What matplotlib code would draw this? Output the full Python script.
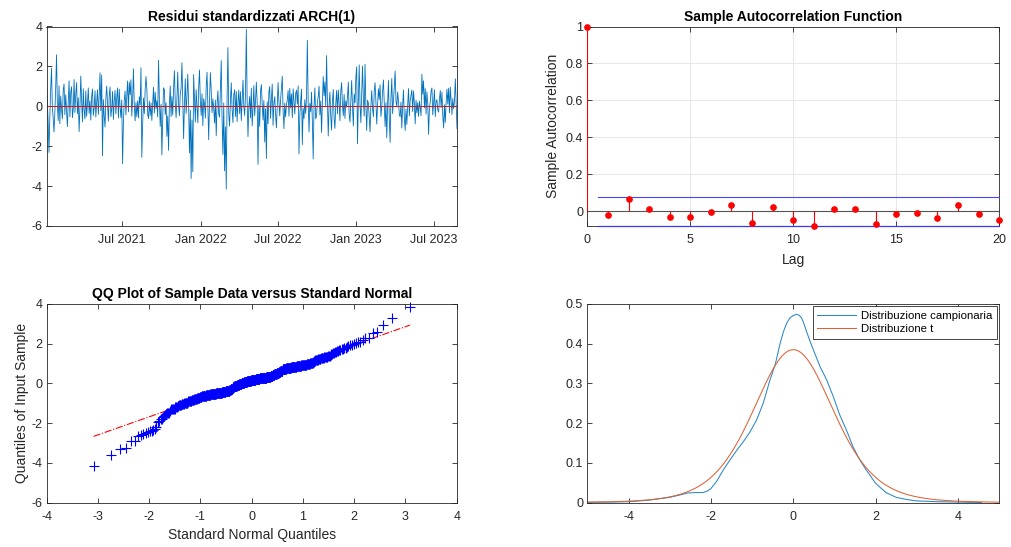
import math
from statistics import NormalDist
import numpy as np
import pandas as pd
import matplotlib
matplotlib.use('Agg')
import matplotlib.pyplot as plt
import matplotlib.dates as mdates

# ---------------- data ----------------
resid = [
    1.32, 0.18, -0.83, -2.31, -0.47, 0.84, 1.91, -0.08, -0.61, -1.29, -0.27, 0.94,
    2.58, 0.07, -0.72, 1.03, -0.88, 0.52, -0.16, -0.63, 0.81, 1.12, -0.42, 0.57,
    -0.26, -1.02, 0.22, 1.28, -0.53, 0.71, 0.98, -0.57, -0.12, 1.34, -0.31, 0.61,
    1.19, -0.37, 0.43, -1.27, -0.06, 1.52, 0.27, -0.78, 0.88, -0.19, -0.64, 0.77,
    -0.51, 0.16, 0.92, -0.36, 0.28, -0.69, 0.48, 0.87, -0.46, -0.09, 0.78, -0.54,
    0.21, 0.83, -0.41, 0.47, 1.68, -0.22, 1.57, -2.49, 0.34, -0.48, -1.04, 0.39,
    1.01, 0.13, -0.74, 0.51, 0.97, -0.52, -0.13, 0.74, -0.66, 0.26, 0.79, -0.38,
    0.42, 0.92, -0.59, 0.86, -0.04, -0.56, 0.32, -2.88, -0.81, 0.29, 0.76, -0.43,
    0.53, 1.27, -0.28, 1.21, 0.58, 1.33, -0.49, 0.31, 1.88, 0.02, -0.73, 0.19,
    -0.52, 0.27, -0.58, 0.48, 0.08, 1.93, -2.56, -0.91, 0.41, -0.37, 0.82, 1.49,
    0.88, -0.39, -0.62, 0.26, -0.47, 0.17, -0.71, 0.09, 0.96, -0.34, 0.71, -0.11,
    0.28, -0.53, 2.31, 0.38, -1.01, 0.11, -2.44, -0.61, 0.93, 0.84, -0.41, 0.18,
    -1.51, -0.48, -2.21, 0.12, 1.02, -0.52, 0.49, -0.44, 0.87, 1.79, 0.21, -0.57,
    0.36, 1.72, 0.03, -0.47, 0.64, 0.91, 2.19, 0.23, -1.62, 0.14, 1.38, -0.36,
    0.51, 1.61, 0.07, -2.33, -0.18, -3.62, -0.68, -3.28, 1.59, 0.33, -0.79, 0.83,
    -0.02, -0.83, 0.94, 1.82, 0.29, -0.46, 0.63, -0.97, 0.38, 0.12, -0.59, 0.98,
    1.71, 0.04, -1.68, 0.27, 1.69, 0.81, -0.32, 0.37, -0.07, -0.84, 0.31, -1.48,
    0.09, 0.78, -0.38, -0.54, 0.89, 2.29, -0.63, -2.41, 0.17, -3.24, -1.03, -4.15,
    0.41, 2.94, -0.43, -0.99, 0.28, 1.18, -0.14, -0.82, 0.56, 0.83, -0.51, 0.74,
    -0.77, 0.22, 0.81, -0.37, 0.73, -0.72, 0.27, 1.31, 0.01, -0.46, 0.52, 3.86,
    0.32, -1.52, -0.03, 0.49, -0.58, 0.91, -0.98, -0.09, 1.04, -0.48, 0.26, 1.21,
    0.19, -2.91, 0.04, -1.01, 0.77, 1.09, 0.13, -0.69, 0.29, -1.79, -0.12, -2.62,
    0.23, -0.88, 0.72, 0.99, -0.61, 0.38, 1.11, -0.96, 0.18, 0.48, -0.42, -1.08,
    0.12, 1.19, 0.24, -0.48, 0.33, 0.94, 1.51, -0.21, -1.12, 0.16, -0.53, 0.08,
    0.31, 0.79, -0.49, 0.91, -0.08, 0.62, -0.57, 0.88, 0.21, -0.39, 0.63, 0.81,
    0.11, 1.02, -2.39, -0.47, 0.28, 0.86, -1.92, -0.11, -0.62, 0.34, -0.36, 0.42,
    3.31, 0.19, -1.29, 0.14, -0.28, 0.71, -0.76, -2.64, 0.02, 0.92, -0.63, -0.48,
    0.22, 0.47, 1.01, -0.43, 0.27, -1.31, 0.19, 1.49, 0.53, 1.22, -0.02, 2.54,
    0.29, -1.49, 0.06, 0.71, -0.52, -1.19, 0.24, 0.84, -0.58, -1.11, 0.13, 0.79,
    -0.38, 0.82, 0.17, -0.72, 0.76, 1.19, 0.03, -0.47, 0.59, -0.61, 0.28, -0.04,
    0.47, 1.21, -0.41, -0.79, 0.32, 1.29, -0.01, -0.99, 0.62, 0.18, 1.42, 1.98,
    -1.88, 0.27, 2.08, 0.11, -0.82, 0.54, 2.02, 0.36, -0.49, 2.11, 0.02, -1.21,
    0.31, 0.16, -0.58, -1.28, 0.04, 0.79, -0.13, -0.52, 0.74, 1.18, 0.23, -0.89,
    0.09, 0.88, 0.34, 1.08, -0.51, -0.03, 0.76, 1.32, 0.12, -1.02, 0.19, -1.58,
    0.14, 1.29, -0.62, -1.81, 0.41, 1.39, -0.37, 0.28, 0.97, 1.77, 0.26, -0.03,
    0.72, 0.27, -0.42, -0.53, 0.21, -1.09, 0.01, 0.82, -0.59, -1.21, -0.14, -0.91,
    0.07, 0.89, -0.48, 0.29, 0.55, 0.82, -0.27, 0.77, 0.13, -0.88, 0.31, -0.33,
    0.18, -0.51, 0.26, -0.04, -0.47, 1.61, 0.60, 1.28, -0.08, 0.89, -0.39, 0.72,
    0.17, -1.41, -0.13, 0.22, 0.76, 0.92, -0.43, 0.16, 0.83, -0.52, 0.27, 0.33,
    -0.18, -0.29, 0.34, 0.79, -0.06, 0.71, -0.48, -1.09, 0.08, -0.81, 0.21, 0.86,
    0.11, 0.91, -0.32, 0.96, 0.24, -0.41, 0.39, -0.12, 0.29, 1.38, 0.07, -1.12,
]
start_date = '2021-01-05'
end_date = '2023-08-25'
zero_level = 0.0

acf_lags = list(range(21))
acf_vals = [1.0, -0.023, 0.067, 0.011, -0.031, -0.031, -0.005, 0.031, -0.065,
            0.025, -0.047, -0.081, 0.014, 0.013, -0.070, -0.013, -0.011,
            -0.034, 0.031, -0.014, -0.047]
acf_bound = 0.078

kde_x = [-5.0, -4.5, -4.0, -3.5, -3.0, -2.75, -2.56, -2.4, -2.2, -2.1, -2.0,
         -1.85, -1.7, -1.55, -1.37, -1.2, -1.05, -0.89, -0.73, -0.565, -0.44,
         -0.32, -0.24, -0.16, -0.08, 0.0, 0.08, 0.14, 0.2, 0.26, 0.32, 0.4,
         0.485, 0.65, 0.81, 0.97, 1.13, 1.3, 1.45, 1.6, 1.75, 2.0, 2.25, 2.5,
         2.75, 3.0, 3.5, 4.0, 4.57]
kde_y = [0.0005, 0.001, 0.002, 0.006, 0.013, 0.019, 0.024, 0.025, 0.025, 0.028,
         0.035, 0.055, 0.082, 0.105, 0.132, 0.155, 0.178, 0.208, 0.25, 0.309,
         0.347, 0.401, 0.430, 0.452, 0.465, 0.471, 0.474, 0.472, 0.465, 0.450,
         0.431, 0.408, 0.385, 0.342, 0.309, 0.267, 0.22, 0.18, 0.14, 0.11,
         0.085, 0.048, 0.025, 0.013, 0.0075, 0.004, 0.002, 0.001, 0.0]
t_mu, t_sigma, t_nu = 0.0, 1.0, 7.0

# ---------------- style ----------------
plt.rcParams['font.family'] = ['Liberation Sans', 'DejaVu Sans']
plt.rcParams['axes.unicode_minus'] = False
AX_COL = '#262626'
W, H = 1011, 547
fig = plt.figure(figsize=(W / 100, H / 100), dpi=100)
fig.patch.set_facecolor('white')


def box(l, r, t, b):
    return [l / W, 1 - b / H, (r - l) / W, (b - t) / H]


def style(ax):
    for s in ax.spines.values():
        s.set_color(AX_COL)
        s.set_linewidth(0.6)
    ax.tick_params(direction='in', top=True, right=True, length=3.5,
                   width=0.6, colors=AX_COL, labelsize=9)
    ax.tick_params(axis='x', pad=6)
    ax.tick_params(axis='y', pad=3)


def title(ax, txt):
    ax.set_title(txt, fontsize=10, fontweight='bold', pad=4, color='black')


# ---------- 1: residuals ----------
ax1 = fig.add_axes(box(46.5, 457, 26.5, 226))
dates = pd.date_range(start_date, end_date, periods=len(resid))
ax1.plot(dates, resid, color='#0072BD', lw=0.6)
ax1.axhline(zero_level, color='#e01010', lw=0.7)
ax1.set_xlim(dates[0], dates[-1])
ax1.set_ylim(-6, 4)
ax1.set_yticks([-6, -4, -2, 0, 2, 4])
ax1.xaxis.set_major_locator(mdates.MonthLocator(bymonth=[1, 7]))
ax1.xaxis.set_major_formatter(mdates.DateFormatter('%b %Y'))
style(ax1)
title(ax1, 'Residui standardizzati ARCH(1)')

# ---------- 2: ACF ----------
ax2 = fig.add_axes(box(587.3, 999.3, 26.5, 226))
ax2.grid(True, color='#e3e3e3', lw=0.6)
ax2.set_axisbelow(True)
ax2.axhline(0, color='#555555', lw=0.8, zorder=2)
ax2.vlines(acf_lags, 0, acf_vals, color='red', lw=0.8, zorder=3)
ax2.plot(acf_lags, acf_vals, 'o', color='red', ms=3.8, zorder=7, clip_on=False)
ax2.plot([0.5, acf_lags[-1]], [acf_bound, acf_bound], color='#4646ff', lw=0.8,
         zorder=6, clip_on=False)
ax2.plot([0.5, acf_lags[-1]], [-acf_bound, -acf_bound], color='#3a3af0', lw=0.9,
         zorder=6, clip_on=False)
ax2.set_xlim(0, 20)
ax2.set_ylim(-0.08, 1.0)
ax2.set_xticks([0, 5, 10, 15, 20])
ax2.set_yticks([0, 0.2, 0.4, 0.6, 0.8, 1])
ax2.set_yticklabels(['0', '0.2', '0.4', '0.6', '0.8', '1'])
style(ax2)
ax2.set_xlabel('Lag', fontsize=10, color=AX_COL, labelpad=5)
ax2.set_ylabel('Sample Autocorrelation', fontsize=10, color=AX_COL, labelpad=4)
title(ax2, 'Sample Autocorrelation Function')

# ---------- 3: QQ plot ----------
ax3 = fig.add_axes(box(46.7, 456.7, 304, 502.5))
data_sorted = np.sort(np.asarray(resid))
n = len(data_sorted)
nd = NormalDist()
zq = np.array([nd.inv_cdf((i - 0.5) / n) for i in range(1, n + 1)])
q1, q3 = np.percentile(data_sorted, [25, 75])
z1, z3 = nd.inv_cdf(0.25), nd.inv_cdf(0.75)
slope = (q3 - q1) / (z3 - z1)
icpt = q1 - slope * z1
zline = np.array([zq[0], zq[-1]])
ax3.plot(zline, icpt + slope * zline, color='red', ls='-.', lw=0.8)
ax3.plot(zq, data_sorted, '+', color='#0000ff', ms=7, mew=0.8, clip_on=False)
ax3.set_xlim(-4, 4)
ax3.set_ylim(-6, 4)
ax3.set_xticks(range(-4, 5))
ax3.set_yticks([-6, -4, -2, 0, 2, 4])
style(ax3)
ax3.set_xlabel('Standard Normal Quantiles', fontsize=10, color=AX_COL, labelpad=4)
ax3.set_ylabel('Quantiles of Input Sample', fontsize=10, color=AX_COL, labelpad=2)
title(ax3, 'QQ Plot of Sample Data versus Standard Normal')

# ---------- 4: densities ----------
ax4 = fig.add_axes(box(587.3, 999.3, 304, 502.5))
xt = np.linspace(-5, 5, 401)
c = math.gamma((t_nu + 1) / 2) / (math.sqrt(t_nu * math.pi) * math.gamma(t_nu / 2) * t_sigma)
t_pdf = c * (1 + ((xt - t_mu) / t_sigma) ** 2 / t_nu) ** (-(t_nu + 1) / 2)
ax4.plot(kde_x, kde_y, color='#2a86c8', lw=0.75, label='Distribuzione campionaria')
ax4.plot(xt, t_pdf, color='#dd6236', lw=0.75, label='Distribuzione t')
ax4.set_xlim(-5, 5)
ax4.set_ylim(0, 0.5)
ax4.set_xticks([-4, -2, 0, 2, 4])
ax4.set_yticks([0, 0.1, 0.2, 0.3, 0.4, 0.5])
ax4.set_yticklabels(['0', '0.1', '0.2', '0.3', '0.4', '0.5'])
style(ax4)
leg = ax4.legend(loc='upper right', fontsize=8.2, frameon=True, fancybox=False,
                 edgecolor=AX_COL, framealpha=1, borderaxespad=0.2,
                 handlelength=3.4, handletextpad=0.45, labelspacing=0.3,
                 borderpad=0.4)
leg.get_frame().set_linewidth(0.6)
for t in leg.get_texts():
    t.set_color('black')

fig.savefig('out.png', dpi=100, facecolor='white')
